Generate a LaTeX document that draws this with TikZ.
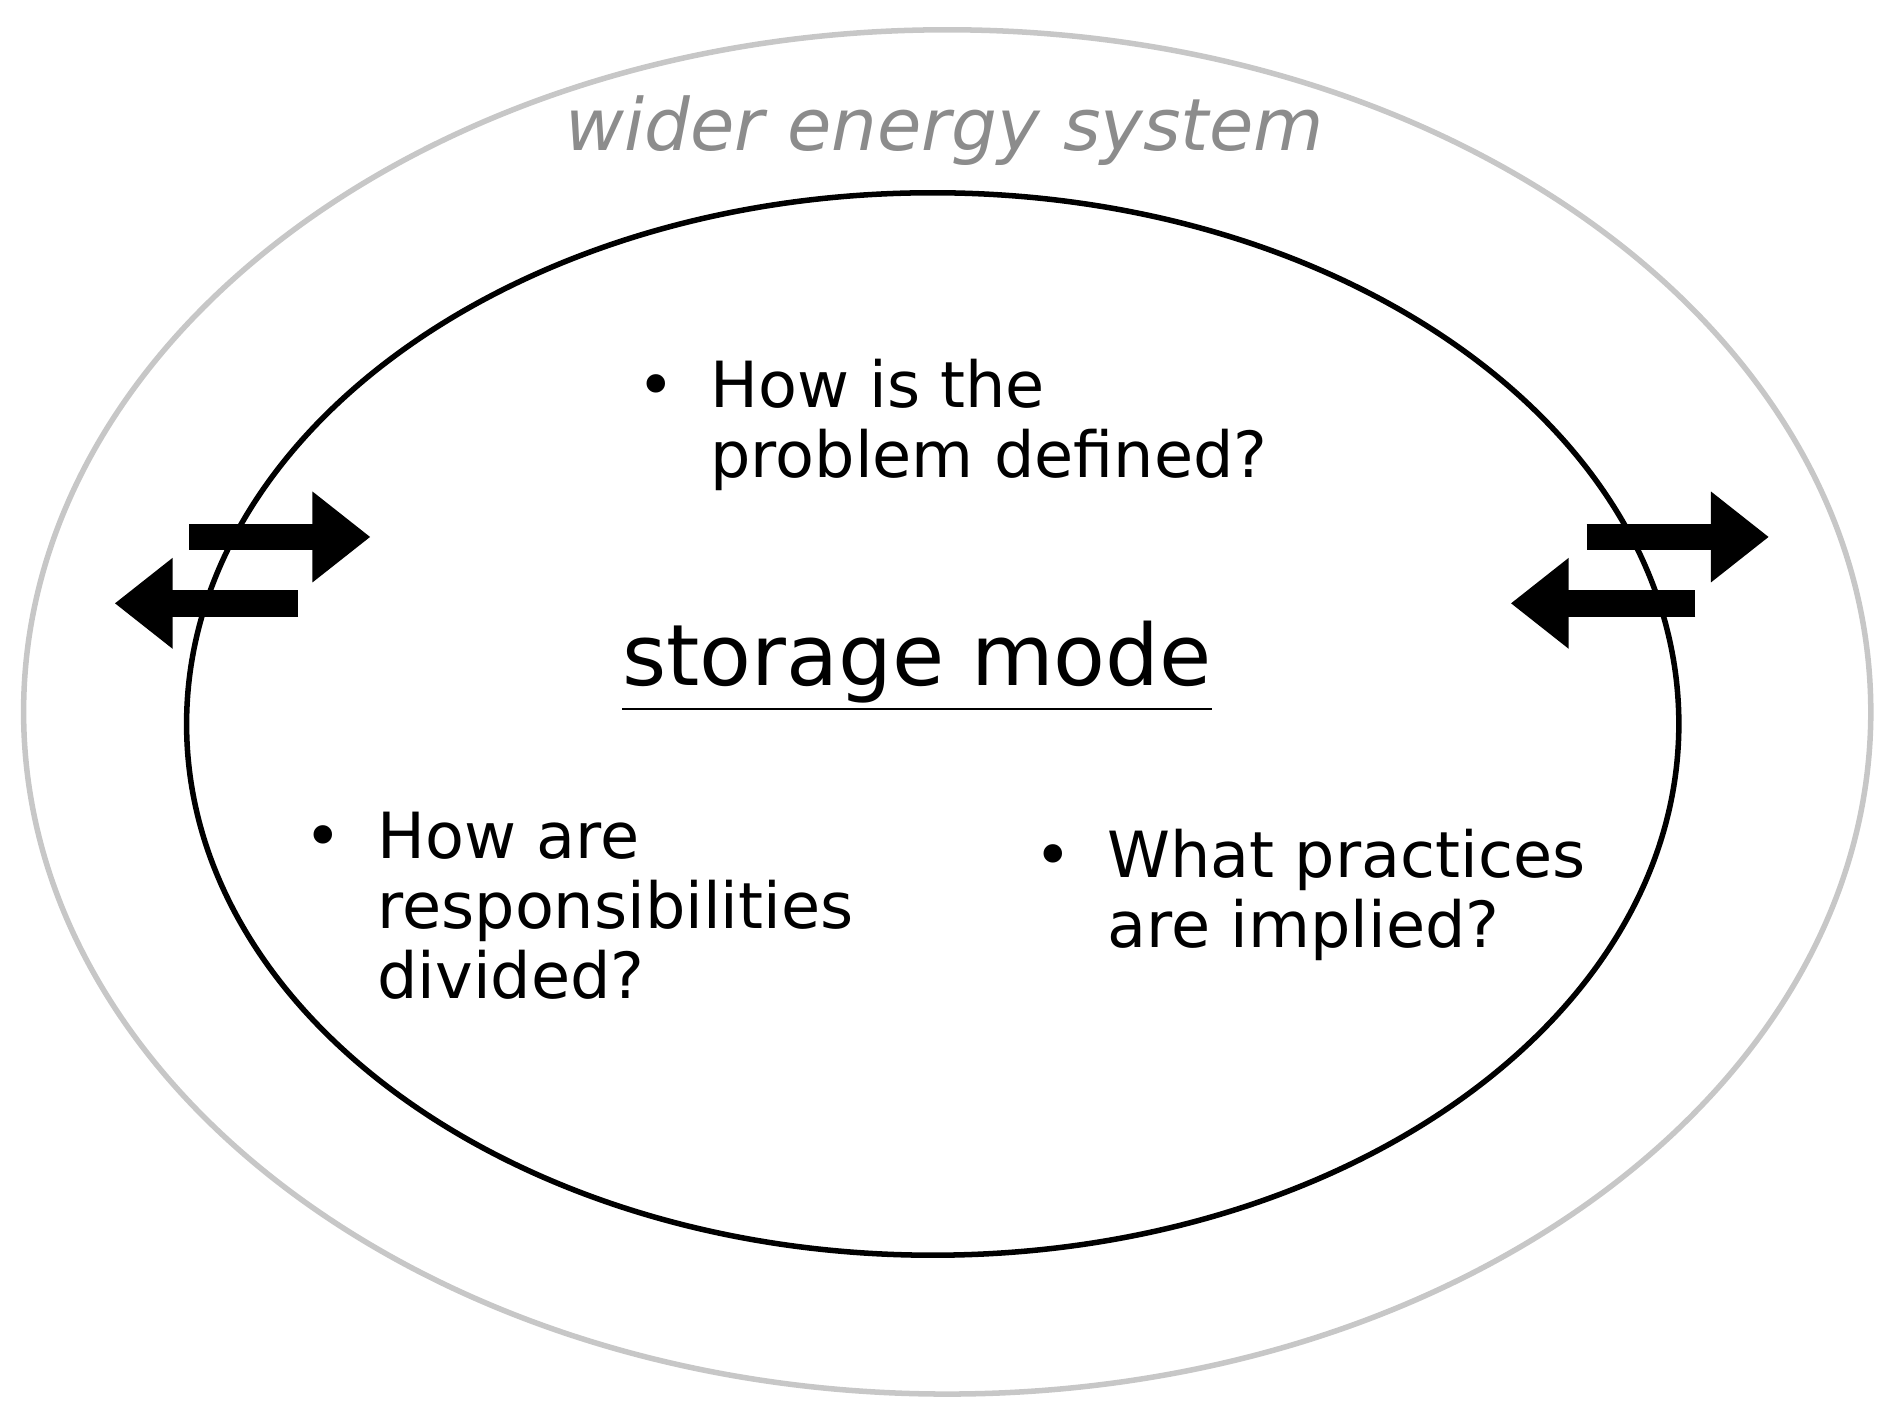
\documentclass[tikz,border=0pt]{standalone}
\usepackage{fontspec}
\setmainfont{DejaVu Sans}
\usetikzlibrary{shapes.geometric,arrows.meta,positioning}
\tikzset
{
    flow/.style     = {line width=0.22cm, -{Triangle[length=0.48cm,width=0.72cm]}},
    question/.style = {anchor=north west, align=left, inner sep=0pt, font=\fontsize{15}{16.5}\selectfont}
}
\newcommand{\ask}[1]{\textbullet\hspace{0.55em}\begin{tabular}[t]{@{}l@{}}#1\end{tabular}}

\begin{document}
\begin{tikzpicture}[x=0.01cm, y=-0.01cm]
\useasboundingbox (0,0) rectangle (1568,1172);
\node (outer)[draw=black!22, line width=1.3pt, ellipse, minimum width=15.3cm, minimum height=11.3cm] at (785,590) {};
\node (inner)[draw=black, line width=1.3pt, ellipse, minimum width=12.36cm, minimum height=8.8cm] at (773,600) {};

\node (wider) at (783,108) {\fontsize{17}{20}\selectfont\color{black!45}\itshape wider energy system};
\node (mode)  at (760,552) {\fontsize{20}{24}\selectfont\underline{storage mode}};

\node (q1)[question] at (528,296) {\ask{How is the\\problem defined?}};
\node (q2)[question] at (252,670) {\ask{How are\\responsibilities\\divided?}};
\node (q3)[question] at (857,686) {\ask{What practices\\are implied?}};

\coordinate (la) at (157,445);  \coordinate (lb) at (307,445);
\coordinate (lc) at (247,500);  \coordinate (ld) at (95,500);
\coordinate (ra) at (1315,445); \coordinate (rb) at (1466,445);
\coordinate (rc) at (1405,500); \coordinate (rd) at (1252,500);

\draw[flow] (la) -- (lb);
\draw[flow] (lc) -- (ld);
\draw[flow] (ra) -- (rb);
\draw[flow] (rc) -- (rd);

\end{tikzpicture}
\end{document}
